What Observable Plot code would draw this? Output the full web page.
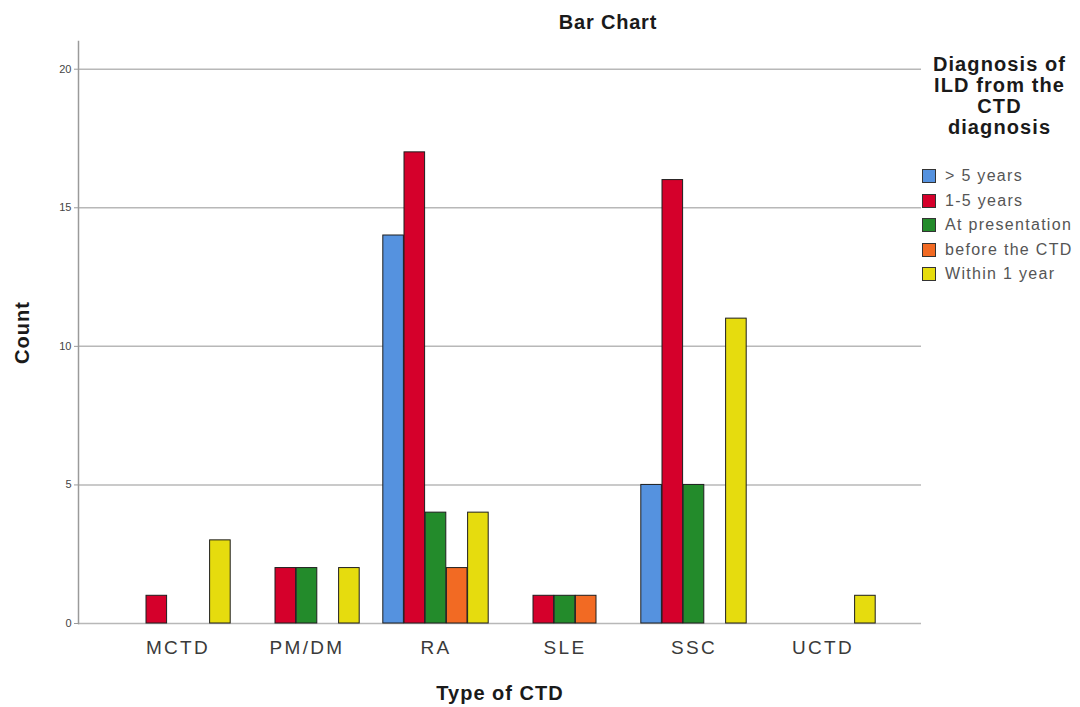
<!DOCTYPE html>
<html>
<head>
<meta charset="utf-8">
<script src="https://cdn.jsdelivr.net/npm/d3@7"></script>
<script src="https://cdn.jsdelivr.net/npm/@observablehq/plot@0.6"></script>
<style>
  html, body { margin: 0; padding: 0; background: #fff; }
  #wrap { position: relative; width: 1080px; height: 707px; font-family: "Liberation Sans", Arial, sans-serif; }
  #chart { position: absolute; left: 0; top: 0; }
  #title { position: absolute; left: 508px; top: 11px; width: 200px; text-align: center;
           font-size: 20px; line-height: 22px; font-weight: bold; letter-spacing: 0.8px; color: #1a1a1a; }
  #legend { position: absolute; left: 915px; top: 54px; width: 165px; }
  #legend .ltitle { text-align: center; font-weight: bold; font-size: 20px; line-height: 21px;
                    letter-spacing: 1.1px; color: #1a1a1a; margin-left: 4px; }
  #legend .items { margin-top: 26px; }
  #legend .item { height: 24.5px; display: flex; align-items: center; }
  #legend .sw { width: 14px; height: 14px; border: 1px solid #333; box-sizing: border-box; margin-left: 7px; margin-right: 9px; flex: none; }
  #legend .lab { font-size: 16px; letter-spacing: 1.3px; color: #555; white-space: nowrap; }
  svg g[aria-label="x-axis tick label"] { font-size: 19px; letter-spacing: 2.3px; fill: #3a3a3a; }
  svg g[aria-label="y-axis tick label"] { font-size: 11px; fill: #444; }
  svg g[aria-label="x-axis label"], svg g[aria-label="y-axis label"] { font-size: 20px; font-weight: bold; letter-spacing: 1px; fill: #1a1a1a; }
</style>
</head>
<body>
<div id="wrap">
  <div id="chart"></div>
  <div id="title">Bar Chart</div>
  <div id="legend"></div>
</div>
<script>
// Categories
const groups = ["MCTD", "PM/DM", "RA", "SLE", "SSC", "UCTD"];
// Series (legend order)
const seriesNames = ["> 5 years", "1-5 years", "At presentation", "before the CTD", "Within 1 year"];
const seriesColors = ["#5592df", "#d5002b", "#238b2b", "#f26a23", "#e6dc0e"];
// Counts per group for each series
const overFiveYears   = [0, 0, 14, 0, 5, 0];
const oneToFiveYears  = [1, 2, 17, 1, 16, 0];
const atPresentation  = [0, 2, 4, 1, 5, 0];
const beforeTheCTD    = [0, 0, 2, 1, 0, 0];
const withinOneYear   = [3, 2, 4, 0, 11, 1];
const yTicks = [0, 5, 10, 15, 20];

const seriesValues = [overFiveYears, oneToFiveYears, atPresentation, beforeTheCTD, withinOneYear];
const rows = [];
seriesNames.forEach((s, i) => groups.forEach((g, j) => rows.push({group: g, series: s, count: seriesValues[i][j]})));

// layout of the clustered slots inside each band
const W = 1080, H = 707, mL = 78, mR = 159, mT = 41, mB = 84;
const padOuter = 0.252;
const step = (W - mL - mR) / (groups.length + 2 * padOuter);
const slot = 21.2;
const half = (step - slot) / 2;

const bars = seriesNames.map((s, i) => Plot.barY(
  rows.filter(d => d.series === s && d.count > 0),
  {x: "group", y: "count", fill: "series", stroke: "#1e1e1e", strokeWidth: 1,
   insetLeft: half + (i - 2) * slot, insetRight: half - (i - 2) * slot}
));

const chart = Plot.plot({
  width: W, height: H,
  marginLeft: mL, marginRight: mR, marginTop: mT, marginBottom: mB,
  style: {fontFamily: "'Liberation Sans', Arial, sans-serif", background: "#fff", overflow: "visible"},
  x: {domain: groups, paddingInner: 0, paddingOuter: padOuter, align: 0.5},
  y: {domain: [0, 21]},
  color: {domain: seriesNames, range: seriesColors},
  marks: [
    Plot.ruleY(yTicks, {stroke: "#b8b8b8", strokeWidth: 1.5}),
    Plot.frame({anchor: "left", stroke: "#9a9a9a", strokeWidth: 1.5}),
    ...bars,
    Plot.axisY({ticks: yTicks, tickSize: 4, tickPadding: 3, stroke: "#9a9a9a",
                label: "Count", labelAnchor: "center", labelOffset: 64, labelArrow: false}),
    Plot.axisX({tickSize: 0, tickPadding: 17, label: "Type of CTD", labelAnchor: "center", labelOffset: 76, labelArrow: false})
  ]
});
document.getElementById("chart").appendChild(chart);

// Legend
const leg = document.getElementById("legend");
const t = document.createElement("div");
t.className = "ltitle";
t.innerHTML = "Diagnosis of<br>ILD from the<br>CTD<br>diagnosis";
leg.appendChild(t);
const items = document.createElement("div");
items.className = "items";
seriesNames.forEach((s, i) => {
  const it = document.createElement("div");
  it.className = "item";
  const sw = document.createElement("div");
  sw.className = "sw";
  sw.style.background = seriesColors[i];
  const lab = document.createElement("div");
  lab.className = "lab";
  lab.textContent = s;
  it.appendChild(sw); it.appendChild(lab);
  items.appendChild(it);
});
leg.appendChild(items);
</script>
</body>
</html>
